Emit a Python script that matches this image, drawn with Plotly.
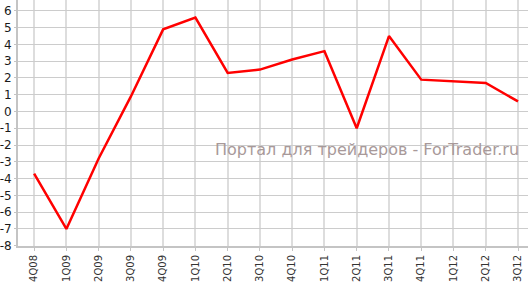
import plotly.graph_objects as go

quarters = ["4Q08", "1Q09", "2Q09", "3Q09", "4Q09", "1Q10", "2Q10", "3Q10",
            "4Q10", "1Q11", "2Q11", "3Q11", "4Q11", "1Q12", "2Q12", "3Q12"]
values = [-3.7, -7.0, -2.8, 0.9, 4.9, 5.6, 2.3, 2.5,
          3.1, 3.6, -1.0, 4.5, 1.9, 1.8, 1.7, 0.6]
y_ticks = list(range(-8, 7))
watermark = "Портал для трейдеров - ForTrader.ru"

fig = go.Figure(go.Scatter(
    x=list(range(len(quarters))), y=values, mode="lines",
    line=dict(color="#ff0000", width=2.5), hoverinfo="skip"))

fig.update_layout(
    width=528, height=282,
    margin=dict(l=17, r=0, t=0, b=34),
    paper_bgcolor="white", plot_bgcolor="white",
    showlegend=False,
    font=dict(family="DejaVu Sans", color="#222222"),
    xaxis=dict(
        range=[-0.5, 15.31],
        tickmode="array", tickvals=list(range(len(quarters))), ticktext=quarters,
        tickangle=-90, tickfont=dict(size=10, color="#333333"),
        showgrid=True, gridcolor="#dddddd", gridwidth=2,
        zeroline=False,
        showline=True, linecolor="#c4c4c4", linewidth=2,
        ticks="outside", ticklen=3, tickcolor="#c4c4c4",
        fixedrange=True,
    ),
    yaxis=dict(
        range=[-8.02, 6.65],
        tickmode="array", tickvals=y_ticks, ticktext=[str(v) for v in y_ticks],
        tickfont=dict(size=12, color="#1a1a1a"),
        showgrid=True, gridcolor="#cccccc", gridwidth=1,
        zeroline=False,
        showline=True, linecolor="#c4c4c4", linewidth=2,
        ticks="outside", ticklen=2, tickcolor="#c4c4c4",
        fixedrange=True,
    ),
    annotations=[dict(
        text=watermark, xref="paper", yref="paper",
        x=(212 - 17) / 511, y=(248 - 151) / 248, xanchor="left", yanchor="middle",
        showarrow=False, font=dict(size=16, color="#a89999", family="DejaVu Sans"),
    )],
)

fig.write_html("out.html")
